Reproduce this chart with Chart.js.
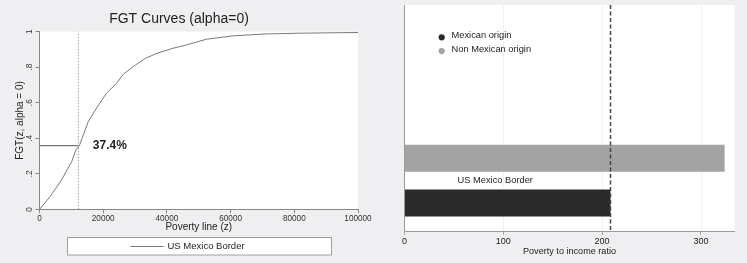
<!DOCTYPE html>
<html>
<head>
<meta charset="utf-8">
<script src="https://cdn.jsdelivr.net/npm/chart.js@4.4.1/dist/chart.umd.min.js"></script>
<style>
  html, body { margin: 0; padding: 0; background: #efeff1; }
  #wrap { position: relative; width: 747px; height: 263px; overflow: hidden; }
  canvas { display: block; position: absolute; top: 0; }
  #fgt { left: 0; }
  #ratio { left: 370px; }
</style>
</head>
<body>
<div id="wrap">
  <canvas id="fgt" width="390" height="263"></canvas>
  <canvas id="ratio" width="377" height="263"></canvas>
</div>
<script>
// left panel: FGT curve, alpha = 0 (headcount)
const povertyLine = [0, 3300, 6900, 10100, 11400, 12500, 15300, 17900, 21000, 24200, 26300,
  29400, 33300, 36900, 41900, 46100, 52400, 60700, 71200, 81700, 100000];
const fgtShare = [0, 0.071, 0.165, 0.268, 0.334, 0.358, 0.493, 0.569, 0.653, 0.709, 0.76,
  0.803, 0.85, 0.878, 0.906, 0.925, 0.957, 0.976, 0.987, 0.991, 0.995];
const curveName = "US Mexico Border";
const povertyThreshold = 12200;
const shareAtThreshold = 0.358;
const thresholdLabel = "37.4%";

// right panel: poverty to income ratio
const regions = ["US Mexico Border"];
const groups = ["Mexican origin", "Non Mexican origin"];
const mexicanRatio = [208.5];
const nonMexicanRatio = [324];
const referenceRatio = 208.5;

const FONT = '"Liberation Sans", Arial, sans-serif';
Chart.defaults.font.family = FONT;
Chart.defaults.color = "#222";

const MEX_COLOR = "#2a2a2a";
const NONMEX_COLOR = "#a3a3a3";

// white plot area, 37.4% label and the boxed legend under the plot
const fgtDecor = {
  id: "fgtDecor",
  beforeDraw(chart) {
    const { ctx, chartArea: a } = chart;
    ctx.save();
    ctx.fillStyle = "#fff";
    ctx.fillRect(a.left, a.top, a.right - a.left, a.bottom - a.top);
    ctx.restore();
  },
  afterDraw(chart) {
    const { ctx, chartArea: a, scales } = chart;
    ctx.save();
    ctx.font = "bold 12px " + FONT;
    ctx.fillStyle = "#222";
    ctx.textBaseline = "middle";
    ctx.fillText(thresholdLabel,
      scales.x.getPixelForValue(povertyThreshold) + 14.5,
      scales.y.getPixelForValue(shareAtThreshold));

    // legend
    const cx = (a.left + a.right) / 2;
    const bx = Math.round(cx - 132) + 0.5;
    const by = chart.height - 25.5;
    ctx.fillStyle = "#fff";
    ctx.fillRect(bx, by, 264, 17.5);
    ctx.strokeStyle = "#a0a0a0";
    ctx.lineWidth = 1;
    ctx.strokeRect(bx, by, 264, 17.5);
    const ly = by + 9;
    ctx.strokeStyle = "#7a7a7a";
    ctx.beginPath();
    ctx.moveTo(bx + 63, ly);
    ctx.lineTo(bx + 96, ly);
    ctx.stroke();
    ctx.font = "9.5px " + FONT;
    ctx.fillStyle = "#222";
    ctx.fillText(curveName, bx + 100, ly);
    ctx.restore();
  }
};

new Chart(document.getElementById("fgt"), {
  type: "line",
  data: {
    datasets: [
      {
        label: curveName,
        data: povertyLine.map((z, i) => ({ x: z, y: fgtShare[i] })),
        borderColor: "#7a7a7a",
        borderWidth: 1,
        pointRadius: 0,
      },
      {
        label: "threshold",
        data: [{ x: povertyThreshold, y: 0 }, { x: povertyThreshold, y: 1 }],
        borderColor: "#9a9a9a",
        borderWidth: 1,
        borderDash: [1.5, 1.5],
        pointRadius: 0,
      },
      {
        label: "share",
        data: [{ x: 0, y: shareAtThreshold }, { x: povertyThreshold, y: shareAtThreshold }],
        borderColor: "#555",
        borderWidth: 1,
        pointRadius: 0,
      },
    ],
  },
  options: {
    responsive: false,
    animation: false,
    layout: { padding: { top: 0, right: 32, bottom: 29.5, left: 0 } },
    plugins: {
      legend: { display: false },
      tooltip: { enabled: false },
      title: {
        display: true,
        text: "FGT Curves (alpha=0)",
        font: { size: 14, weight: "normal", lineHeight: 1.2 },
        color: "#222",
        padding: { top: 11, bottom: 3.8 },
      },
    },
    scales: {
      x: {
        type: "linear",
        min: 0,
        max: 100000,
        ticks: { stepSize: 20000, maxRotation: 0, padding: 1, font: { size: 8.2 }, color: "#333",
          callback: (v) => String(v) },
        grid: { drawOnChartArea: false, tickLength: 4, tickColor: "#888" },
        border: { color: "#888" },
        title: { display: true, text: "Poverty line (z)", font: { size: 10, lineHeight: 1.2 }, padding: 0, color: "#222" },
        afterFit: (s) => { s.height = 24.2; s.paddingLeft = 0; s.paddingRight = 0; },
      },
      y: {
        min: 0,
        max: 1,
        ticks: {
          stepSize: 0.2, minRotation: 90, maxRotation: 90, crossAlign: "center", padding: 2,
          font: { size: 8.4 }, color: "#333",
          callback: (v) => {
            const r = Math.round(v * 10) / 10;
            if (r === 0) return "0";
            if (r === 1) return "1";
            return r.toFixed(1).replace(/^0/, "");
          },
        },
        grid: { drawOnChartArea: false, tickLength: 4, tickColor: "#888" },
        border: { color: "#888" },
        title: { display: true, text: "FGT(z, alpha = 0)", font: { size: 10, lineHeight: 1.2 }, padding: { top: 14, bottom: 0 }, color: "#222" },
        afterFit: (s) => { s.width = 39.5; s.paddingTop = 0; s.paddingBottom = 0; },
      },
    },
  },
  plugins: [fgtDecor],
});

// right panel: plot frame runs above the bars up to PLOT_TOP, legend sits inside it
const PLOT_TOP = 5;
const ratioDecor = {
  id: "ratioDecor",
  beforeDraw(chart) {
    const { ctx, chartArea: a } = chart;
    ctx.save();
    ctx.fillStyle = "#fff";
    ctx.fillRect(a.left, PLOT_TOP, a.right - a.left, a.bottom - PLOT_TOP);
    ctx.restore();
  },
  beforeDatasetsDraw(chart) {
    const { ctx, chartArea: a, scales } = chart;
    ctx.save();
    ctx.lineWidth = 1;
    ctx.strokeStyle = "#f0f0f0";
    scales.x.ticks.forEach((t) => {
      if (t.value === 0) return;
      const px = Math.round(scales.x.getPixelForValue(t.value)) + 0.5;
      ctx.beginPath();
      ctx.moveTo(px, PLOT_TOP);
      ctx.lineTo(px, a.bottom);
      ctx.stroke();
    });
    ctx.strokeStyle = "#999";
    ctx.beginPath();
    ctx.moveTo(a.left, PLOT_TOP);
    ctx.lineTo(a.left, a.bottom);
    ctx.stroke();
    ctx.restore();
  },
  afterDatasetsDraw(chart) {
    const { ctx, chartArea: a, scales } = chart;
    const px = scales.x.getPixelForValue(referenceRatio);
    ctx.save();
    ctx.strokeStyle = "#444";
    ctx.lineWidth = 1.5;
    ctx.setLineDash([4, 2.5]);
    ctx.beginPath();
    ctx.moveTo(px, PLOT_TOP);
    ctx.lineTo(px, a.bottom);
    ctx.stroke();
    ctx.restore();
  },
  afterDraw(chart) {
    const { ctx, chartArea: a } = chart;
    const items = [
      { text: groups[0], color: MEX_COLOR },
      { text: groups[1], color: NONMEX_COLOR },
    ];
    ctx.save();
    ctx.font = "9.3px " + FONT;
    ctx.textBaseline = "middle";
    items.forEach((it, i) => {
      const y = 36.5 + i * 13.8;
      ctx.fillStyle = it.color;
      ctx.beginPath();
      ctx.arc(a.left + 37.2, y + 0.8, 3.1, 0, Math.PI * 2);
      ctx.fill();
      ctx.fillStyle = "#222";
      ctx.fillText(it.text, a.left + 47, y - 1);
    });
    ctx.restore();
  },
};

new Chart(document.getElementById("ratio"), {
  type: "bar",
  data: {
    labels: regions,
    datasets: [
      { label: groups[1], data: nonMexicanRatio, backgroundColor: NONMEX_COLOR,
        categoryPercentage: 0.888, barPercentage: 0.604 },
      { label: groups[0], data: mexicanRatio, backgroundColor: MEX_COLOR,
        categoryPercentage: 0.888, barPercentage: 0.604 },
    ],
  },
  options: {
    indexAxis: "y",
    responsive: false,
    animation: false,
    layout: { padding: { top: 130.3, right: 12.5, bottom: 5.6, left: 0 } },
    plugins: { legend: { display: false }, tooltip: { enabled: false } },
    scales: {
      x: {
        min: 0,
        max: 334,
        ticks: { stepSize: 100, includeBounds: false, padding: 1.6, font: { size: 9 }, color: "#222", maxRotation: 0 },
        grid: { drawOnChartArea: false, tickLength: 4, tickColor: "#aaa" },
        border: { color: "#999" },
        title: { display: true, text: "Poverty to income ratio", font: { size: 9.1, lineHeight: 1.2 }, padding: 0, color: "#222" },
        afterFit: (s) => { s.height = 26.4; s.paddingLeft = 0; s.paddingRight = 0; },
      },
      y: {
        ticks: { mirror: true, padding: 53, font: { size: 9.3 }, color: "#222" },
        grid: { display: false },
        border: { display: false },
        afterFit: (s) => { s.width = 34.5; s.paddingTop = 0; s.paddingBottom = 0; },
      },
    },
  },
  plugins: [ratioDecor],
});
</script>
</body>
</html>
